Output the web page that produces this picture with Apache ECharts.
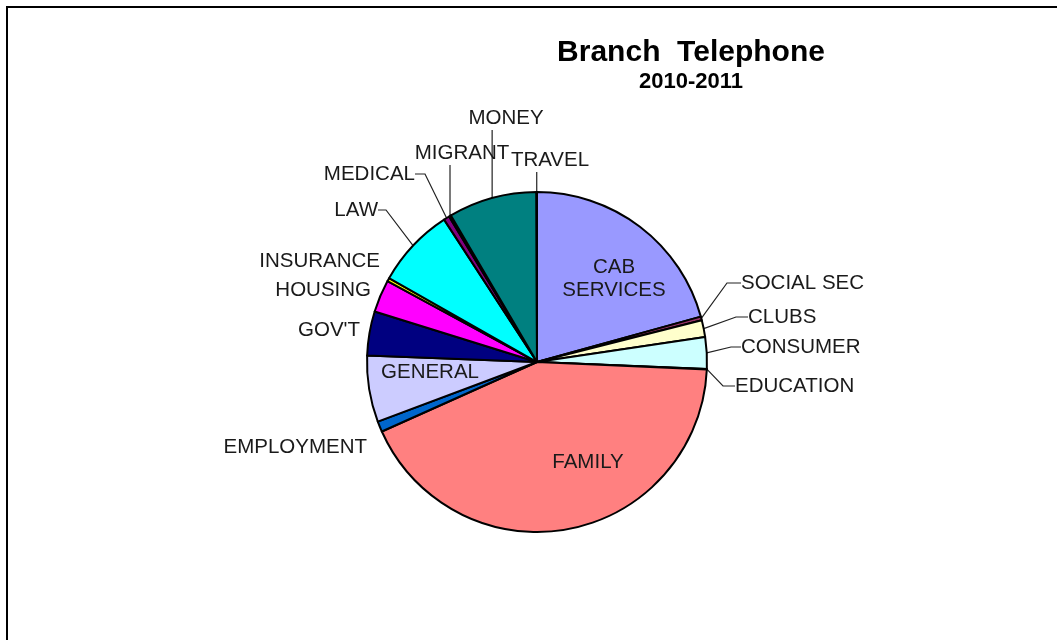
<!DOCTYPE html>
<html>
<head>
<meta charset="utf-8">
<script src="https://cdn.jsdelivr.net/npm/echarts@6/dist/echarts.min.js"></script>
<style>
  html, body { margin: 0; padding: 0; background: #fff; }
  #chart { width: 1057px; height: 640px; }
</style>
</head>
<body>
<div id="chart"></div>
<script>
// Enquiry categories, clockwise from 12 o'clock
const categories = ['CAB SERVICES', 'SOCIAL SEC', 'CLUBS', 'CONSUMER', 'EDUCATION', 'FAMILY',
  'EMPLOYMENT', 'GENERAL', "GOV'T", 'HOUSING', 'INSURANCE', 'LAW', 'MEDICAL', 'MIGRANT',
  'MONEY', 'TRAVEL'];
// Share of telephone enquiries (%)
const shares = [20.7, 0.35, 1.6, 3.0, 0.05, 42.6, 1.0, 6.3, 4.2, 3.1, 0.3, 7.6, 0.55, 0.2, 8.4, 0.05];
const sliceColors = ['#9999FF', '#993366', '#FFFFCC', '#CCFFFF', '#660066', '#FF8080',
  '#0066CC', '#CCCCFF', '#000080', '#FF00FF', '#FFFF00', '#00FFFF', '#800080', '#800000',
  '#008080', '#0000FF'];
const chartTitle = 'Branch  Telephone';
const chartSubtitle = '2010-2011';

// Pie geometry
const CX = 537, CY = 362, R = 170;

// Label placement: [x, y, align, leader style, leader tail length]
// leader style: 'none', 'auto' (routed by ECharts) or 'up' (vertical from slice edge)
const labelSpots = {
  'CAB SERVICES': [614, 279, 'center', 'none', 0],
  'SOCIAL SEC':   [741, 283, 'left',   'auto', 14],
  'CLUBS':        [748, 317, 'left',   'auto', 12],
  'CONSUMER':     [741, 347, 'left',   'auto', 10],
  'EDUCATION':    [735, 386, 'left',   'auto', 12],
  'FAMILY':       [588, 462, 'center', 'none', 0],
  'EMPLOYMENT':   [367, 447, 'right',  'none', 0],
  'GENERAL':      [430, 372, 'center', 'none', 0],
  "GOV'T":        [360, 330, 'right',  'none', 0],
  'HOUSING':      [371, 290, 'right',  'none', 0],
  'INSURANCE':    [380, 261, 'right',  'none', 0],
  'LAW':          [378, 210, 'right',  'auto', 8],
  'MEDICAL':      [415, 174, 'right',  'auto', 10],
  'MIGRANT':      [462, 153, 'center', 'up', 0],
  'MONEY':        [506, 118, 'center', 'up', 0],
  'TRAVEL':       [550, 160, 'center', 'up', 0]
};

const labelFont = 'Liberation Sans, Arial, sans-serif';
const labelSize = 20.5;

// Point on the pie rim at the middle of slice i (clockwise from 12 o'clock)
const total = shares.reduce((a, b) => a + b, 0);
function rimPoint(i) {
  let before = 0;
  for (let k = 0; k < i; k++) before += shares[k];
  const a = (before + shares[i] / 2) / total * Math.PI * 2;
  return [CX + R * Math.sin(a), CY - R * Math.cos(a)];
}

const pieData = categories.map((name, i) => ({
  name: name,
  value: shares[i],
  itemStyle: { color: sliceColors[i] },
  labelLine: { show: labelSpots[name][3] !== 'none', length2: labelSpots[name][4] }
}));

const chart = echarts.init(document.getElementById('chart'), null, { renderer: 'canvas' });

chart.setOption({
  backgroundColor: '#ffffff',
  animation: false,
  title: {
    text: chartTitle,
    subtext: chartSubtitle,
    left: 686,
    top: 33,
    textAlign: 'center',
    itemGap: 3,
    textStyle: { fontFamily: labelFont, fontWeight: 'bold', fontSize: 30, color: '#000' },
    subtextStyle: { fontFamily: labelFont, fontWeight: 'bold', fontSize: 22, color: '#000' }
  },
  graphic: [{
    type: 'rect',
    shape: { x: 7, y: 7, width: 1200, height: 1000 },
    style: { fill: 'none', stroke: '#000', lineWidth: 2 },
    silent: true
  }],
  series: [{
    type: 'pie',
    center: [CX, CY],
    radius: [0, R],
    startAngle: 90,
    clockwise: true,
    avoidLabelOverlap: false,
    minShowLabelAngle: 0,
    itemStyle: { borderColor: '#000', borderWidth: 2 },
    label: {
      show: true,
      position: 'outside',
      fontFamily: labelFont,
      fontSize: labelSize,
      color: '#1a1a1a',
      lineHeight: 23,
      formatter: p => p.name === 'CAB SERVICES' ? 'CAB\nSERVICES' : p.name
    },
    labelLine: {
      show: true,
      length: 10,
      length2: 10,
      lineStyle: { color: '#222', width: 1.2 }
    },
    labelLayout: function (params) {
      const i = params.dataIndex;
      const spot = labelSpots[categories[i]];
      const out = { x: spot[0], y: spot[1], align: spot[2], verticalAlign: 'middle' };
      if (spot[3] === 'up') {
        const p = rimPoint(i);
        out.labelLinePoints = [p, [p[0], spot[1] + 12], [p[0], spot[1] + 12]];
      }
      return out;
    },
    emphasis: { disabled: true },
    data: pieData
  }]
});
</script>
</body>
</html>
